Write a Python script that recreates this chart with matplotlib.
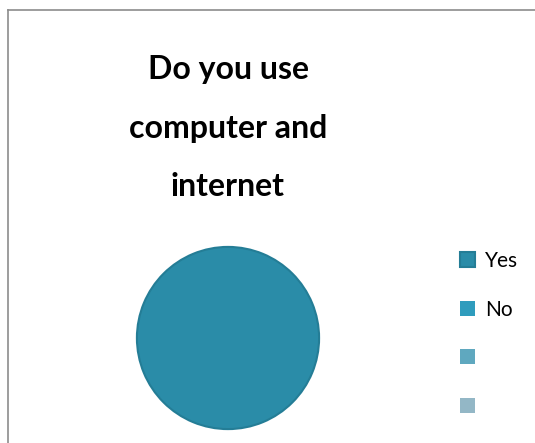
import matplotlib
matplotlib.use("Agg")
import matplotlib.pyplot as plt
from matplotlib.lines import Line2D

plt.rcParams['font.family'] = ['Lato', 'DejaVu Sans']

title = "Do you use\ncomputer and\ninternet"
labels = ['Yes', 'No', '', '']
values = [100, 0, 0, 0]
colors = ['#2a8ca8', '#2f9cbd', '#5fa8bf', '#93b7c6']

W, H = 535, 443
fig = plt.figure(figsize=(W / 100, H / 100), dpi=100)

# chart area border (left and top visible)
fig.add_artist(Line2D([8 / W, 8 / W], [0, 1 - 10 / H], color='#8c8c8c', lw=1.2))
fig.add_artist(Line2D([8 / W, 1], [1 - 10 / H, 1 - 10 / H], color='#8c8c8c', lw=1.2))

fig.text(228 / W, 1 - 196 / H, title, ha='center', va='baseline', multialignment='center',
         fontsize=23, fontweight='bold', linespacing=2.22, color='black')

ax = fig.add_axes([136 / W, 13 / H, 184 / W, 184 / H])
wedges, _ = ax.pie(values, colors=colors, startangle=90, counterclock=False,
                   wedgeprops=dict(linewidth=0))
wedges[0].set_edgecolor('#247d96')
wedges[0].set_linewidth(1.5)
ax.set_xlim(-1.01, 1.01)
ax.set_ylim(-1.01, 1.01)
ax.set_aspect('equal')

fig.legend(wedges, [l if l else ' ' for l in labels], loc='upper left',
           bbox_to_anchor=(460 / W, 1 - 251 / H), frameon=False, fontsize=15,
           handlelength=0.72, handleheight=0.72, handletextpad=0.48,
           labelspacing=1.37, borderpad=0, borderaxespad=0)

fig.savefig('out.png', dpi=100)
